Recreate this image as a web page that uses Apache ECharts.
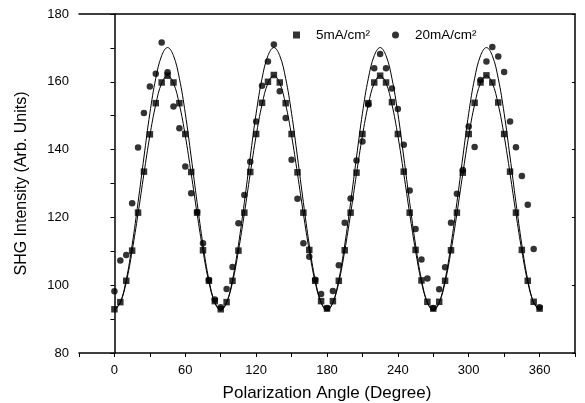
<!DOCTYPE html>
<html>
<head>
<meta charset="utf-8">
<script src="https://cdn.jsdelivr.net/npm/echarts@6/dist/echarts.min.js"></script>
<style>
html,body{margin:0;padding:0;background:#fff;}
#c{width:585px;height:403px;}
</style>
</head>
<body>
<div id="c"></div>
<script>
// Polarization angle (degree)
const angles = [0,5,10,15,20,25,30,35,40,45,50,55,60,65,70,75,80,85,90,95,100,105,110,115,120,125,130,135,140,145,150,155,160,165,170,175,180,185,190,195,200,205,210,215,220,225,230,235,240,245,250,255,260,265,270,275,280,285,290,295,300,305,310,315,320,325,330,335,340,345,350,355,360];

// 5mA/cm2 measured points (squares)
const current5 = [92.9,95.0,101.3,110.2,121.4,133.5,144.5,153.7,159.8,161.8,159.8,153.7,144.6,133.4,121.4,110.3,101.3,95.3,92.9,95.0,101.3,110.2,121.4,133.4,144.6,153.8,160.0,162.0,159.8,153.7,144.6,133.3,121.4,110.4,101.3,95.3,93.1,95.3,101.3,110.3,121.4,133.2,144.6,153.7,159.8,161.8,159.8,154.0,144.6,133.5,121.4,110.4,101.4,95.1,93.1,95.1,101.3,110.3,121.4,133.2,144.6,153.8,159.8,161.9,159.8,153.9,144.6,133.5,121.4,110.4,101.3,95.1,93.1];

// 20mA/cm2 measured points (circles)
const current20 = [98.2,107.3,108.9,124.2,140.6,150.8,158.6,162.4,171.6,162.8,152.7,146.3,135.0,127.1,121.6,112.4,101.5,95.8,93.5,98.9,105.4,118.3,126.6,136.4,148.3,158.8,166.0,171.0,157.2,149.3,137.0,125.5,112.4,108.4,101.6,97.4,93.3,98.3,105.9,118.4,125.6,136.8,142.4,153.3,164.0,168.2,164.0,158.0,152.0,141.4,127.9,116.6,107.6,102.0,93.3,98.8,105.3,118.4,127.0,134.0,146.8,140.8,160.5,166.0,170.3,167.5,162.9,148.3,140.7,132.2,123.7,110.7,93.5];

// fitted curves
const fit5 = [92.8,94.9,100.9,110.1,121.1,132.9,144.1,153.3,159.6,161.8,159.6,153.3,144.1,132.9,121.1,110.1,100.9,94.9,92.8,94.9,100.9,110.1,121.1,132.9,144.1,153.3,159.6,161.8,159.6,153.3,144.1,132.9,121.1,110.1,100.9,94.9,92.8,94.9,100.9,110.1,121.1,132.9,144.1,153.3,159.6,161.8,159.6,153.3,144.1,132.9,121.1,110.1,100.9,94.9,92.8,94.9,100.9,110.1,121.1,132.9,144.1,153.3,159.6,161.8,159.6,153.3,144.1,132.9,121.1,110.1,100.9,94.9,92.8];
const fit20 = [92.6,94.9,101.6,111.9,124.4,137.8,150.7,161.0,167.7,170.1,167.7,161.0,150.7,137.8,124.4,111.9,101.6,94.9,92.6,94.9,101.6,111.9,124.4,137.8,150.7,161.0,167.7,170.1,167.7,161.0,150.7,137.8,124.4,111.9,101.6,94.9,92.6,94.9,101.6,111.9,124.4,137.8,150.7,161.0,167.7,170.1,167.7,161.0,150.7,137.8,124.4,111.9,101.6,94.9,92.6,94.9,101.6,111.9,124.4,137.8,150.7,161.0,167.7,170.1,167.7,161.0,150.7,137.8,124.4,111.9,101.6,94.9,92.6];

const xTickLabels = [0,60,120,180,240,300,360];
const yTickLabels = [80,100,120,140,160,180];

const pair = arr => angles.map((a, i) => [a, arr[i]]);
const font = "'Liberation Sans', Arial, sans-serif";

const chart = echarts.init(document.getElementById('c'), null, {renderer: 'canvas'});
chart.setOption({
  animation: false,
  backgroundColor: '#fff',
  grid: {left: 79, right: 10, top: 14, bottom: 50, containLabel: false, outerBoundsMode: 'none'},
  legend: {
    left: 293, top: 28, padding: 0,
    itemWidth: 7, itemHeight: 7, itemGap: 22,
    textStyle: {fontFamily: font, fontSize: 13.5, color: '#000', padding: [0,0,0,11]},
    data: [{name: '5mA/cm²', icon: 'rect'}, {name: '20mA/cm²', icon: 'circle'}]
  },
  xAxis: [{
    type: 'value', min: -30, max: 390, interval: 30,
    name: 'Polarization Angle (Degree)', nameLocation: 'middle', nameGap: 32,
    nameTextStyle: {fontFamily: font, fontSize: 17, color: '#000'},
    axisLine: {lineStyle: {color: '#000', width: 1.5}},
    axisTick: {show: true, inside: false, length: 4, lineStyle: {color: '#000'}},
    axisLabel: {fontFamily: font, fontSize: 13, color: '#000', margin: 11,
      formatter: v => xTickLabels.includes(v) ? String(v) : ''},
    splitLine: {show: false}
  }, {
    type: 'value', min: -30, max: 390, interval: 30, position: 'top',
    axisLine: {show: true, onZero: false, lineStyle: {color: '#000', width: 1.5}},
    axisTick: {show: false}, axisLabel: {show: false}, splitLine: {show: false}
  }],
  yAxis: [{
    type: 'value', min: 80, max: 180, interval: 10,
    name: 'SHG Intensity (Arb. Units)', nameLocation: 'middle', nameGap: 49,
    nameTextStyle: {fontFamily: font, fontSize: 16, color: '#000'},
    axisLine: {show: true, lineStyle: {color: '#000', width: 1.5}},
    axisTick: {show: true, inside: false, length: 4, lineStyle: {color: '#000'}},
    axisLabel: {fontFamily: font, fontSize: 13, color: '#000', margin: 10,
      formatter: v => yTickLabels.includes(v) ? String(v) : ''},
    splitLine: {show: false}
  }, {
    type: 'value', min: 80, max: 180, interval: 20, position: 'right',
    axisLine: {show: true, onZero: false, lineStyle: {color: '#000', width: 1.5}},
    axisTick: {show: true, inside: true, length: 3, lineStyle: {color: '#000'}},
    axisLabel: {show: false}, splitLine: {show: false}
  }],
  series: [
    {name: 'fit20', type: 'line', data: pair(fit20), smooth: 0.4, showSymbol: false,
      lineStyle: {color: '#000', width: 1}, silent: true, z: 2},
    {name: 'fit5', type: 'line', data: pair(fit5), smooth: 0.4, showSymbol: false,
      lineStyle: {color: '#000', width: 1}, silent: true, z: 2},
    {name: '5mA/cm²', type: 'scatter', data: pair(current5), symbol: 'rect', symbolSize: 6.5,
      itemStyle: {color: '#000'}, z: 3},
    {name: '20mA/cm²', type: 'scatter', data: pair(current20), symbol: 'circle', symbolSize: 6.5,
      itemStyle: {color: '#000'}, z: 3}
  ]
});
</script>
</body>
</html>
